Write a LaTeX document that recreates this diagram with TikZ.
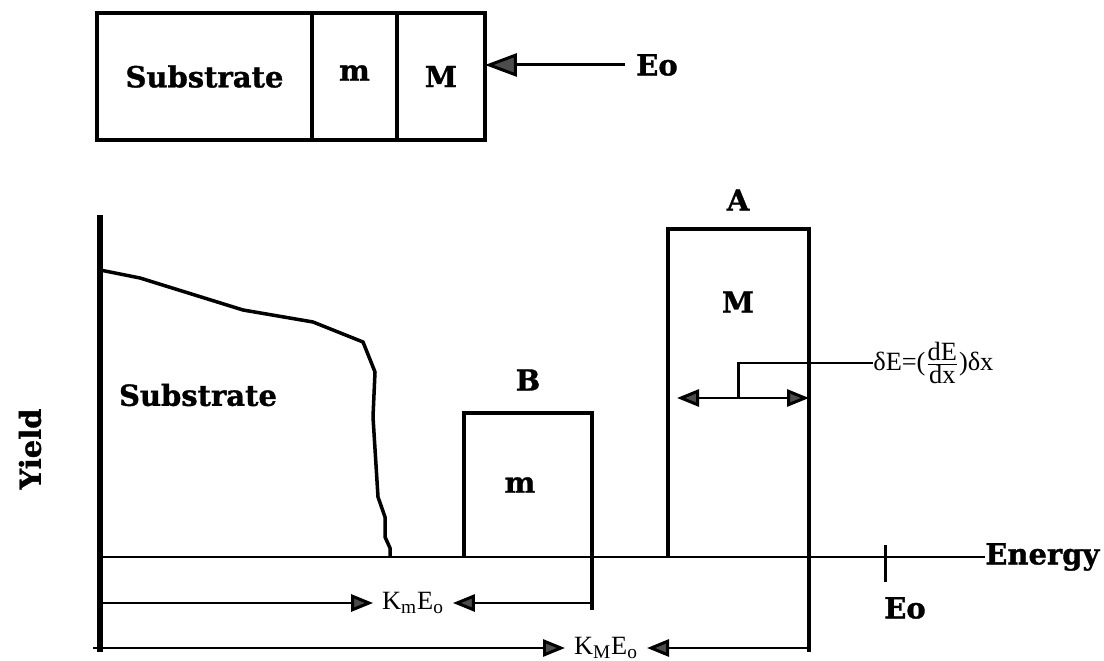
\documentclass[tikz,border=0pt]{standalone}
\usepackage{fontspec}
\setmainfont{Liberation Serif}
\newfontfamily\slabfont{DejaVu Serif}[BoldFeatures={FakeBold=1.2}]
\usetikzlibrary{arrows.meta,positioning}
\tikzset{
  layerbox/.style ={draw=black, line width=2pt, minimum height=2.54cm, outer sep=0pt,
                    inner sep=0pt, font=\slabfont\bfseries\fontsize{16.5}{18}\selectfont},
  boldlab/.style  ={inner sep=0pt, font=\slabfont\bfseries\fontsize{16.5}{18}\selectfont},
  eqlab/.style    ={inner sep=0pt, inner xsep=5pt, font=\fontsize{15}{17}\selectfont},
  subfont/.style  ={},
  peakline/.style ={line width=2pt},
  axisline/.style ={line width=1.7pt},
  curveline/.style={line width=2pt, line join=round},
  dimarr/.style   ={-{Triangle[length=4.4mm,width=3.4mm,fill=black!70]}, line width=1.7pt},
  bothArr/.style  ={{Triangle[length=4.4mm,width=3.4mm,fill=black!70]}-{Triangle[length=4.4mm,width=3.4mm,fill=black!70]}, line width=1.7pt},
  beamarr/.style  ={-{Triangle[length=6.4mm,width=4.6mm,fill=black!70]}, line width=1.7pt},
}
\newcommand{\subtxt}[1]{$_{\mbox{\fontsize{11}{12}\selectfont #1}}$}
\begin{document}
\begin{tikzpicture}[x=0.02cm,y=-0.02cm]
  \useasboundingbox (0,0) rectangle (1104,661);
  % target layers
  \node[layerbox, minimum width=4.3cm] (subtop) at (204.5,76.5) {Substrate};
  \node[layerbox, minimum width=1.7cm, right=0pt of subtop] (mtop) {\raisebox{4pt}{m}};
  \node[layerbox, minimum width=1.76cm, right=0pt of mtop] (Mtop) {M};
  \node[boldlab, inner xsep=6pt] (eotop) at (657,65) {Eo};
  \draw[beamarr] (eotop.west) -- (eotop.west -| Mtop.east);

  % spectrum axes
  \coordinate (top) at (100,215);
  \coordinate (O) at (100,557);
  \coordinate (bot) at (100,652);
  \node[boldlab, anchor=west] (energy) at (985,557) {Energy};
  \node[boldlab, rotate=90] (yield) at (30,449) {Yield};
  \draw[line width=3pt] (top) -- (bot);
  \draw[axisline] (O) -- (energy.west);
  \coordinate (tickA) at (885,545);
  \coordinate (tickB) at (885,582);
  \draw[axisline] (tickA) -- (tickB);
  \node[boldlab] (eobot) at (905,608) {Eo};

  % substrate edge
  \draw[curveline] (100,270) -- (140,278) -- (243,310) -- (313,322) -- (363,342)
    -- (375,372) -- (373,417) -- (378,497) -- (385,517) -- (385,537) -- (390,548) -- (390,557);
  \node[boldlab] (sublab) at (198,395) {Substrate};

  % peak B (layer m)
  \coordinate (Bl) at (464,557);
  \coordinate (Bt) at (592,413);
  \coordinate (Bd) at (592,610);
  \draw[peakline] (Bl) |- (Bt) -- (Bd);
  \node[boldlab] (Blab) at (528,380) {B};
  \node[boldlab] (mlab) at (520,485) {m};

  % peak A (layer M)
  \coordinate (Al) at (668,557);
  \coordinate (At) at (809,229);
  \coordinate (Ad) at (809,652);
  \draw[peakline] (Al) |- (At) -- (Ad);
  \node[boldlab] (Alab) at (738,200) {A};
  \node[boldlab] (Mlab) at (738,302) {M};

  % width of peak A
  \coordinate (wl) at (677,398);
  \coordinate (wr) at (809,398);
  \coordinate (wm) at (738,398);
  \draw[bothArr] (wl) -- (wr);
  \node[eqlab, anchor=west, inner sep=0pt] (dE) at (873,363)
    {δE=($\frac{\mbox{dE}}{\mbox{dx}}$)δx};
  \draw[axisline] (wm) |- (dE.west);

  % energy markers
  \node[eqlab] (kmE) at (413,603) {K\subtxt{m}E\subtxt{o}};
  \draw[dimarr] (O |- kmE) -- (kmE.west);
  \draw[dimarr] (Bd |- kmE) -- (kmE.east);
  \node[eqlab] (kME) at (606,648) {K\subtxt{M}E\subtxt{o}};
  \draw[dimarr] (93,648) -- (kME.west);
  \draw[dimarr] (Ad |- kME) -- (kME.east);
\end{tikzpicture}
\end{document}
